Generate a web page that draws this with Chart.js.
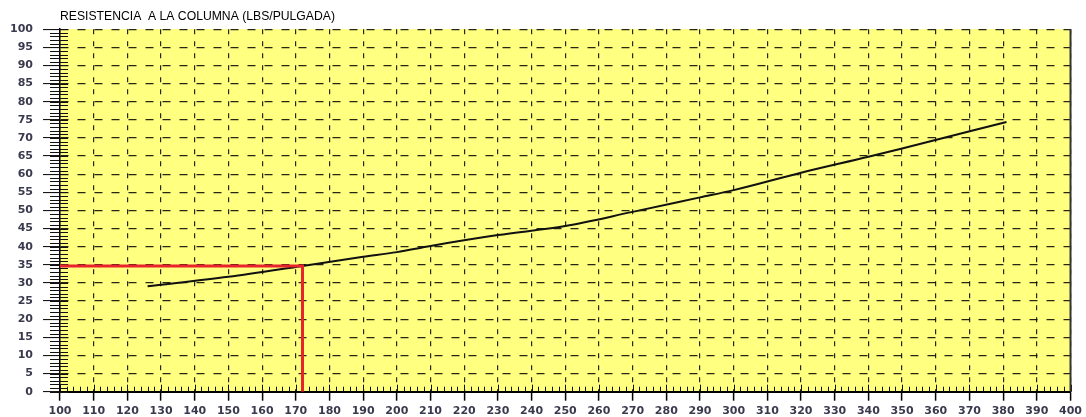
<!DOCTYPE html>
<html>
<head>
<meta charset="utf-8">
<script src="https://cdn.jsdelivr.net/npm/chart.js@4.4.1/dist/chart.umd.min.js"></script>
<style>
  html, body { margin: 0; padding: 0; background: #fff; }
  #wrap { width: 1086px; height: 417px; position: relative; }
</style>
</head>
<body>
<div id="wrap"><canvas id="graficoColumna"></canvas></div>
<script>
// curva de resistencia a la columna
const columnaX = [126, 150, 172, 190, 200, 210, 230, 250, 270, 290, 300, 320, 340, 350, 381];
const columnaY = [29.1, 31.7, 34.7, 37.2, 38.5, 40.2, 43.2, 45.7, 49.6, 53.6, 55.6, 60.4, 64.8, 67.1, 74.4];

// lectura en rojo
const lecturaX = [100, 172, 172];
const lecturaY = [34.7, 34.7, 0];

const ejeXMin = 100, ejeXMax = 400, ejeXPaso = 10;
const ejeYMin = 0, ejeYMax = 100, ejeYPaso = 5;
const titulo = 'RESISTENCIA  A LA COLUMNA (LBS/PULGADA)';

const fuenteTicks = { family: 'DejaVu Sans', size: 11, weight: 'bold' };

// fondo amarillo + marcas menores de los ejes
const marcasMenores = {
    id: 'marcasMenores',
    beforeDraw(chart) {
        const { ctx, chartArea: a } = chart;
        ctx.save();
        ctx.fillStyle = '#ffff80';
        ctx.fillRect(a.left, a.top, a.right - a.left, a.bottom - a.top);
        ctx.restore();
    },
    beforeDatasetsDraw(chart) {
        const { ctx, chartArea: a, scales: { x, y } } = chart;
        ctx.save();
        ctx.strokeStyle = '#111';
        ctx.lineWidth = 1;
        ctx.beginPath();
        for (let v = ejeYMin; v <= ejeYMax; v++) {
            const py = Math.round(y.getPixelForValue(v)) + 0.5;
            ctx.moveTo(a.left - 10, py);
            ctx.lineTo(a.left + 8, py);
        }
        for (let v = ejeXMin; v <= ejeXMax; v += 2) {
            const px = Math.round(x.getPixelForValue(v)) + 0.5;
            const largo = v % 10 === 0 ? 7 : 5;
            ctx.moveTo(px, a.bottom - largo);
            ctx.lineTo(px, a.bottom);
        }
        ctx.stroke();
        // borde derecho
        ctx.strokeStyle = '#333';
        ctx.lineWidth = 2;
        ctx.beginPath();
        ctx.moveTo(a.right, a.top);
        ctx.lineTo(a.right, a.bottom);
        ctx.stroke();
        ctx.restore();
    }
};

const graficoColumna = new Chart(document.getElementById('graficoColumna'), {
    type: 'scatter',
    data: {
        datasets: [{
            label: 'lectura',
            data: lecturaX.map((x, i) => ({ x: x, y: lecturaY[i] })),
            showLine: true,
            borderColor: '#e8232b',
            borderWidth: 3,
            pointRadius: 0,
            tension: 0,
            order: 0
        }, {
            label: 'columna',
            data: columnaX.map((x, i) => ({ x: x, y: columnaY[i] })),
            showLine: true,
            borderColor: '#111',
            borderWidth: 2,
            pointRadius: 0,
            cubicInterpolationMode: 'monotone',
            order: 1
        }]
    },
    options: {
        responsive: true,
        maintainAspectRatio: false,
        animation: false,
        layout: {
            padding: { left: 0, right: 13, top: 0, bottom: 0 }
        },
        plugins: {
            legend: { display: false },
            tooltip: { enabled: false },
            title: {
                display: true,
                text: titulo,
                align: 'start',
                fullSize: false,
                color: '#000',
                font: { family: 'Liberation Sans', size: 12.2, weight: 'normal' },
                padding: { top: 9.5, bottom: 5 }
            }
        },
        scales: {
            x: {
                type: 'linear',
                min: ejeXMin,
                max: ejeXMax,
                afterFit: scale => { scale.height = 25.3 },
                ticks: {
                    stepSize: ejeXPaso,
                    autoSkip: false,
                    maxRotation: 0,
                    padding: 4,
                    color: '#3a3a4e',
                    font: fuenteTicks
                },
                grid: {
                    color: 'rgba(0,0,0,0.85)',
                    lineWidth: 1.2,
                    tickLength: 9,
                    tickColor: '#000',
                    tickWidth: 1.5
                },
                border: {
                    color: '#000',
                    width: 2,
                    dash: [5, 7]
                }
            },
            y: {
                type: 'linear',
                min: ejeYMin,
                max: ejeYMax,
                afterFit: scale => { scale.width = 60 },
                ticks: {
                    stepSize: ejeYPaso,
                    autoSkip: false,
                    padding: 10,
                    color: '#3a3a4e',
                    font: fuenteTicks
                },
                grid: {
                    color: 'rgba(0,0,0,0.85)',
                    lineWidth: 1.2,
                    tickLength: 17,
                    tickColor: '#000',
                    tickWidth: 1
                },
                border: {
                    color: '#000',
                    width: 1.5,
                    dash: [8, 9]
                }
            }
        }
    },
    plugins: [marcasMenores]
});
</script>
</body>
</html>
